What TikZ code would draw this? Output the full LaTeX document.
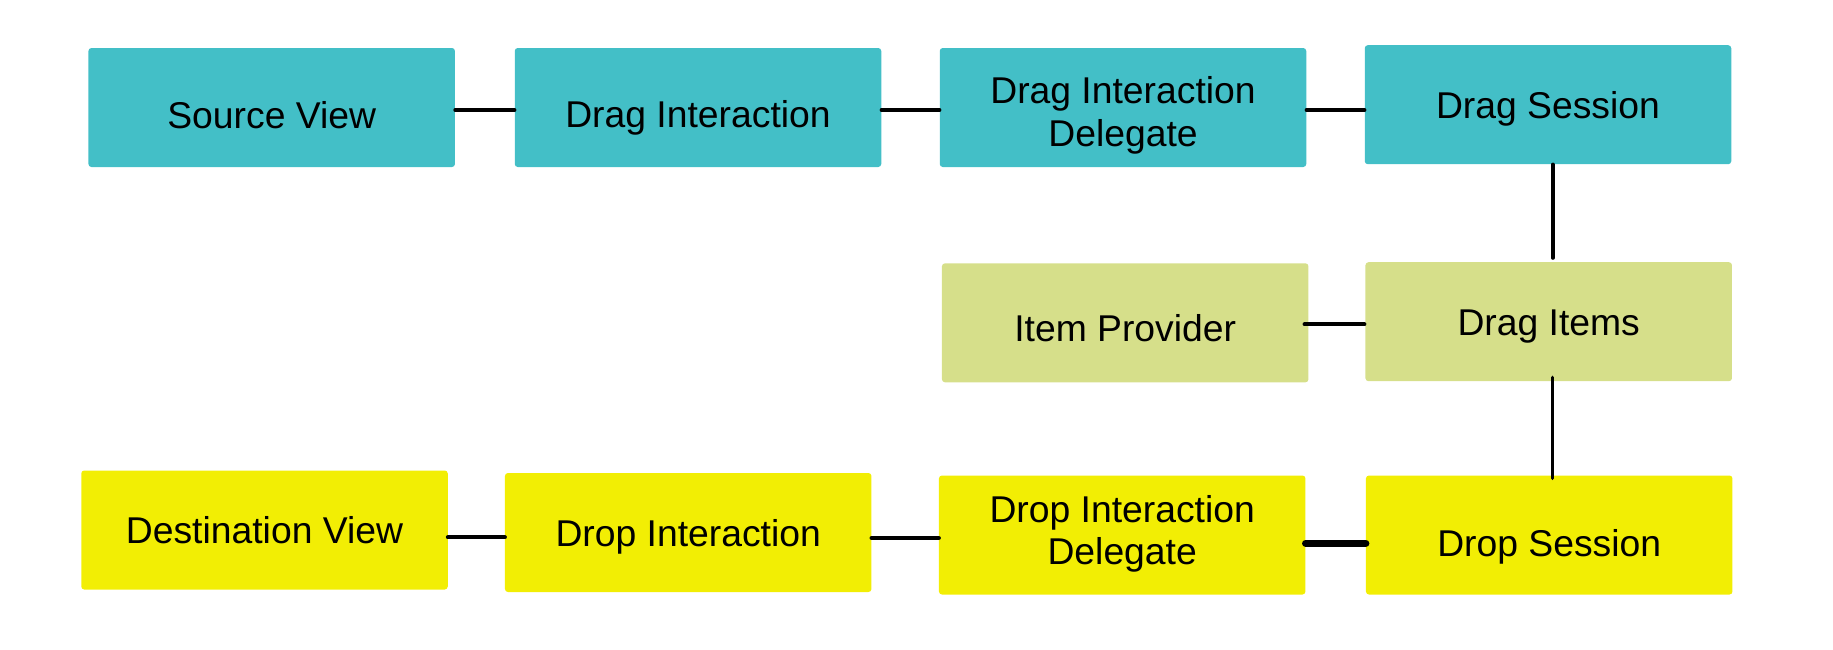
\documentclass[tikz,border=0pt]{standalone}
\usepackage{fontspec}
\setmainfont{Liberation Sans}
\definecolor{dragteal}{RGB}{67,191,199}
\definecolor{itemgreen}{RGB}{214,223,138}
\definecolor{dropyellow}{RGB}{242,238,4}
\tikzset{
  box/.style={rounded corners=3pt, minimum width=366.5pt, minimum height=119pt,
    inner sep=0pt, draw=none},
  dragbox/.style={box, fill=dragteal},
  itembox/.style={box, fill=itemgreen},
  dropbox/.style={box, fill=dropyellow},
  caption/.style={inner sep=0pt, align=center, text=black,
    font=\fontsize{37.3}{42.5}\selectfont},
  oneline/.style={caption, anchor=base},
  twoline/.style={caption, anchor=center},
  link/.style={draw=black, line width=3.6pt, line cap=round},
  heavylink/.style={link, line width=4.3pt},
  thicklink/.style={link, line width=7.3pt}
}
\begin{document}
\begin{tikzpicture}[x=1pt, y=-1pt]
  \useasboundingbox (0,0) rectangle (1833,649);
  % drag side
  \node[dragbox] (src)    at (271.7,107.5) {};
  \node[dragbox] (dint)   at (698,107.5)   {};
  \node[dragbox] (did)    at (1123,107.5)  {};
  \node[dragbox] (dses)   at (1548,104.7)  {};
  % items
  \node[itembox] (ip)     at (1125.2,322.8) {};
  \node[itembox] (ditems) at (1548.7,321.7) {};
  % drop side
  \node[dropbox] (dest)   at (264.5,530)   {};
  \node[dropbox] (drint)  at (688.2,532.5) {};
  \node[dropbox] (drid)   at (1122.2,535)  {};
  \node[dropbox] (drses)  at (1549.2,535)  {};
  % captions
  \node[oneline] (src-t)    at (src.center |- 0,128.3)    {Source View};
  \node[oneline] (dint-t)   at (dint.center |- 0,127.3)   {Drag Interaction};
  \node[twoline] (did-t)    at (did.center |- 0,115.5)    {Drag Interaction\\Delegate};
  \node[oneline] (dses-t)   at (dses.center |- 0,118.3)   {Drag Session};
  \node[oneline] (ip-t)     at (ip.center |- 0,341.7)     {Item Provider};
  \node[oneline] (ditems-t) at (ditems.center |- 0,335)   {Drag Items};
  \node[oneline] (dest-t)   at (dest.center |- 0,543.3)   {Destination View};
  \node[oneline] (drint-t)  at (drint.center |- 0,546.7)  {Drop Interaction};
  \node[twoline] (drid-t)   at (drid.center |- 0,533.9)   {Drop Interaction\\Delegate};
  \node[oneline] (drses-t)  at (drses.center |- 0,556)    {Drop Session};
  % connectors
  \draw[link] (src.east |- 0,110) -- (dint.west |- 0,110);
  \draw[link] (dint.east |- 0,110) -- (did.west |- 0,110);
  \draw[link] (did.east |- 0,110) -- (dses.west |- 0,110);
  \draw[link] ([xshift=4.7pt]dses.south) -- ([xshift=4pt,yshift=4pt]ditems.north);
  \draw[heavylink] ([xshift=-1pt]ditems.west |- 0,324.3) -- ([xshift=-4pt]ip.east |- 0,324.3);
  \draw[link] ([xshift=3.7pt,yshift=4pt]ditems.south) -- ([xshift=3.2pt,yshift=-3pt]drses.north);
  \draw[thicklink] (drses.west |- 0,543.3) -- (drid.east |- 0,543.3);
  \draw[heavylink] (drid.west |- 0,538) -- (drint.east |- 0,538);
  \draw[heavylink] (drint.west |- 0,537.3) -- (dest.east |- 0,537.3);
\end{tikzpicture}
\end{document}
